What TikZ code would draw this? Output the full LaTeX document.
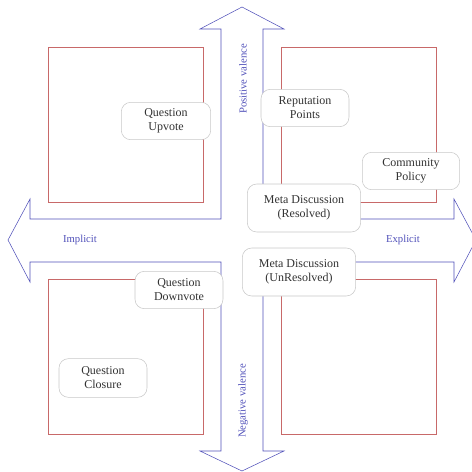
\documentclass[tikz,border=0pt]{standalone}
\usepackage{fontspec}
\setmainfont{Liberation Serif}
\definecolor{osa}{RGB}{80,80,185}
\definecolor{ramec}{RGB}{200,105,105}
\definecolor{okraj}{RGB}{200,200,200}
\tikzset{
  box/.style={draw=okraj, fill=white, rounded corners=7pt, align=center,
    text=black!80, font=\fontsize{9}{10.5}\selectfont, inner sep=2pt},
  popis/.style={text=osa, font=\fontsize{8}{9}\selectfont}
}

\begin{document}
\begin{tikzpicture}[x=0.75pt,y=-0.75pt]
        % Parametry
        \def\s{155}       % strana kvadrantu
        \useasboundingbox (0,0) rectangle (472,472);
        \clip (0,0) rectangle (472,472);

        % Kvadranty
        \draw[ramec] (48,47) rectangle ++(\s,\s);
        \draw[ramec] (281,47) rectangle ++(\s,\s);
        \draw[ramec] (48,279) rectangle ++(\s,\s);
        \draw[ramec] (281,279) rectangle ++(\s,\s);

        % Osy (kříž ze čtyř šipek)
        \draw[osa, line join=miter] (242,7) -- (284,29) -- (263,29) -- (263,219)
          -- (454,219) -- (454,199) -- (476,240) -- (454,282) -- (454,262)
          -- (263,262) -- (263,451) -- (284,451) -- (242,471) -- (200,451)
          -- (221,451) -- (221,262) -- (30,262) -- (30,282) -- (8,240)
          -- (30,199) -- (30,219) -- (221,219) -- (221,29) -- (200,29) -- cycle;

        % Popisky os
        \node[popis, rotate=90] (pos) at (243,79) {Positive valence};
        \node[popis, rotate=90] (neg) at (243,401) {Negative valence};
        \node[popis] (impl) at (80,240) {Implicit};
        \node[popis] (expl) at (403,240) {Explicit};

        % Události
        \node[box, minimum width=67pt, minimum height=28pt] (upvote) at (166,121) {Question\\Upvote};
        \node[box, minimum width=66pt, minimum height=28pt] (rep) at (305,108) {Reputation\\Points};
        \node[box, minimum width=73pt, minimum height=28pt] (policy) at (411,171) {Community\\Policy};
        \node[box, minimum width=85pt, minimum height=36pt] (metares) at (304,208) {Meta Discussion\\(Resolved)};
        \node[box, minimum width=85pt, minimum height=36pt] (metaunres) at (299,272) {Meta Discussion\\(UnResolved)};
        \node[box, minimum width=66pt, minimum height=28pt] (downvote) at (179,290) {Question\\Downvote};
        \node[box, minimum width=66pt, minimum height=29pt] (closure) at (103,378) {Question\\Closure};
      \end{tikzpicture}
\end{document}
